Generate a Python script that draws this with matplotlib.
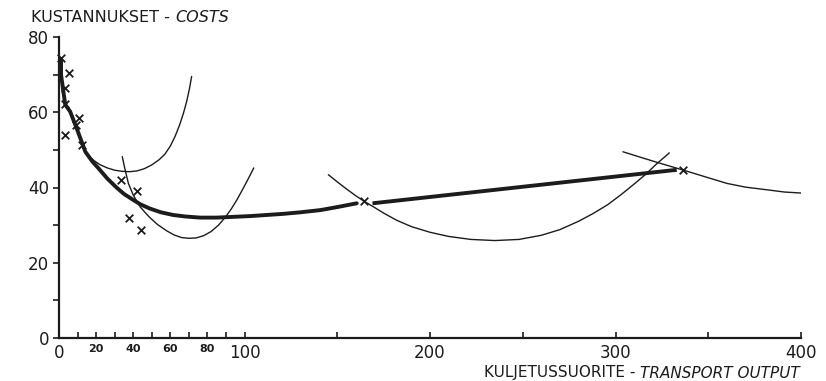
import matplotlib.pyplot as plt
from matplotlib.ticker import FixedLocator

plt.rcParams['font.family'] = ['DejaVu Sans']

# observations (x markers)
obs_x = [1.2, 5.6, 3.1, 3.1, 3.1, 10.6, 9.2, 12.4, 33.4, 42.0, 37.7, 44.2, 164.6, 336.2]
obs_y = [74.4, 70.5, 66.4, 62.1, 54.0, 58.6, 56.6, 51.3, 42.0, 39.0, 31.9, 28.7, 36.3, 44.7]

# thick envelope curve, two pieces
env1_x = [1.1, 1.1, 2.5, 3.4, 6.0, 9.7, 14.2, 18, 22, 26, 31, 35, 40, 44, 49, 55, 61.5, 68, 76, 85, 94, 103,
          112, 121, 130, 141, 150, 160.5]
env1_y = [73.6, 70.0, 65.0, 62.0, 60.2, 55.5, 49.5, 46.9, 44.7, 42.4, 40.0, 38.3, 36.7, 35.5, 34.4, 33.4, 32.7,
          32.3, 32.0, 32.0, 32.2, 32.4, 32.7, 33.0, 33.4, 34.0, 34.8, 35.8]
env2_x = [169, 333]
env2_y = [35.8, 44.7]

# thin cost curves
ca_x = [14, 16, 19, 22, 26, 30, 34, 38, 42, 46, 50, 54, 57, 60, 62.5, 65, 67, 68.8, 70.3, 71.5]
ca_y = [49.5, 48.4, 47.1, 46.1, 45.2, 44.6, 44.3, 44.2, 44.4, 45.0, 46.0, 47.4, 48.8, 51.0, 53.5, 56.6, 59.6,
        62.8, 66.2, 69.5]
cb_x = [34.1, 35.5, 37.4, 40, 43.7, 46.5, 49, 53, 58, 62, 66, 70, 74, 78, 82, 86, 90, 93, 96, 99, 102, 105]
cb_y = [48.2, 45.0, 41.1, 38.0, 34.9, 33.3, 32.0, 30.2, 28.5, 27.4, 26.7, 26.5, 26.6, 27.2, 28.3, 30.0, 32.3,
        34.4, 36.8, 39.5, 42.3, 45.2]
cc_x = [145.2, 150, 155, 160, 164.6, 169.4, 175, 182, 190, 200, 210, 222, 235, 248, 260, 270, 280, 288, 296,
        303, 310, 316, 322, 329]
cc_y = [43.4, 41.5, 39.6, 37.8, 36.3, 34.9, 33.2, 31.3, 29.6, 28.1, 27.0, 26.2, 25.9, 26.2, 27.3, 28.8, 31.0,
        33.1, 35.5, 38.1, 40.9, 43.4, 46.2, 49.2]
cd_x = [304, 315, 325, 336, 348, 360, 370, 381.5, 391, 401]
cd_y = [49.5, 47.8, 46.3, 44.7, 42.9, 41.1, 40.1, 39.4, 38.8, 38.5]

x_major = [0, 100, 200, 300, 400]
x_small = [20, 40, 60, 80]
x_minor = [10, 30, 50, 70, 90, 150, 250, 350]
y_major = [0, 20, 40, 60, 80]
y_minor = [10, 30, 50, 70]

ink = '#1c1c1c'
fig = plt.figure(figsize=(8.26, 3.81), dpi=100)
ax = fig.add_axes([59 / 826, 43 / 381, 742 / 826, 301 / 381])

for cx, cy in [(ca_x, ca_y), (cb_x, cb_y), (cc_x, cc_y), (cd_x, cd_y)]:
    ax.plot(cx, cy, color=ink, lw=1.0, solid_capstyle='round', solid_joinstyle='round')
ax.plot(env1_x, env1_y, color=ink, lw=2.8, solid_capstyle='round', solid_joinstyle='round')
ax.plot(env2_x, env2_y, color=ink, lw=2.8, solid_capstyle='butt')
ax.scatter(obs_x, obs_y, marker='x', s=30, color=ink, linewidths=1.3, zorder=5, clip_on=False)

ax.set_xlim(0, 400)
ax.set_ylim(0, 80)
for s in ['top', 'right']:
    ax.spines[s].set_visible(False)
for s in ['left', 'bottom']:
    ax.spines[s].set_linewidth(1.6)
    ax.spines[s].set_color(ink)

ax.xaxis.set_major_locator(FixedLocator(x_major + x_small))
ax.xaxis.set_minor_locator(FixedLocator(x_minor))
ax.set_xticklabels([str(v) for v in x_major + x_small])
for lab, v in zip(ax.get_xticklabels(), x_major + x_small):
    if v in x_small:
        lab.set_fontsize(8)
        lab.set_fontweight('bold')
    else:
        lab.set_fontsize(12)
ax.tick_params(axis='x', which='both', direction='in', length=4, width=1.2, color=ink, pad=4, labelcolor=ink)

ax.yaxis.set_major_locator(FixedLocator(y_major))
ax.yaxis.set_minor_locator(FixedLocator(y_minor))
ax.tick_params(axis='y', which='both', direction='out', length=4, width=1.2, color=ink, pad=3,
               labelsize=12, labelcolor=ink)

# titles with italic english part
fig.canvas.draw()
r = fig.canvas.get_renderer()
t1 = fig.text(31 / 826, 1 - 18 / 381, 'KUSTANNUKSET - ', fontsize=11.5, color=ink, ha='left', va='center')
bb = t1.get_window_extent(r)
fig.text(bb.x1 / 826, 1 - 18 / 381, 'COSTS', fontsize=11.5, style='italic', color=ink, ha='left', va='center')

t2 = fig.text(800 / 826, 8 / 381, 'TRANSPORT OUTPUT', fontsize=11, style='italic', color=ink, ha='right', va='center')
bb = t2.get_window_extent(r)
fig.text(bb.x0 / 826, 8 / 381, 'KULJETUSSUORITE - ', fontsize=11, color=ink, ha='right', va='center')

fig.savefig('out.png', dpi=100)
